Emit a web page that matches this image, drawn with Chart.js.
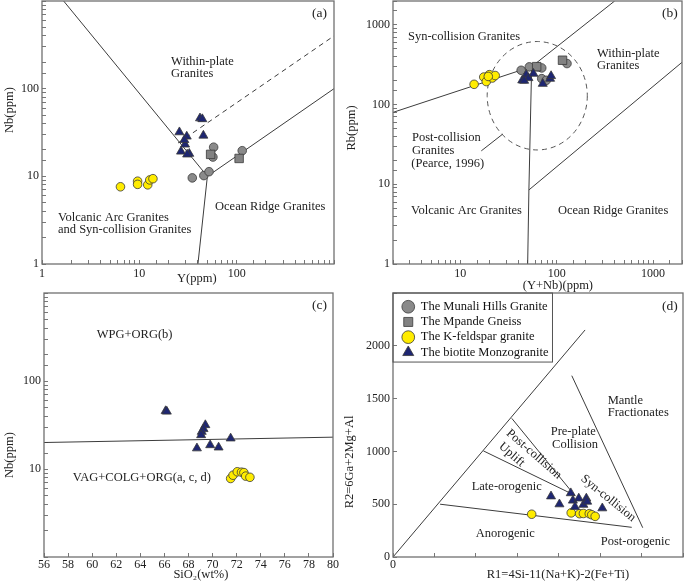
<!DOCTYPE html>
<html>
<head>
<meta charset="utf-8">
<script src="https://cdn.jsdelivr.net/npm/chart.js"></script>
<style>
  html, body { margin: 0; padding: 0; background: #fff; }
  #fig { position: relative; width: 685px; height: 588px; overflow: hidden; }
  canvas { position: absolute; }
</style>
</head>
<body>
<div id="fig">
  <canvas id="pa" width="342" height="292" style="left:0;top:0"></canvas>
  <canvas id="pb" width="343" height="292" style="left:342px;top:0"></canvas>
  <canvas id="pc" width="342" height="296" style="left:0;top:292px"></canvas>
  <canvas id="pd" width="343" height="296" style="left:342px;top:292px"></canvas>
</div>
<script>
// sample groups (legend order)
const groups = ['The Munali Hills Granite', 'The Mpande Gneiss', 'The K-feldspar granite', 'The biotite Monzogranite'];

// (a) Y (ppm) vs Nb (ppm), [Y, Nb]
const aMunali = [[35, 9.6], [46, 10.2], [52, 11.3], [58, 21.5], [57, 16.6], [114, 19.6]];
const aMpande = [[54, 17.8], [106, 16]];
const aKfsp = [[6.4, 7.6], [9.6, 8.8], [9.6, 8.1], [12.2, 8.0], [12.8, 9.1], [13.8, 9.4]];
const aBiotite = [[25.8, 31.9], [30.7, 28.5], [29.5, 23.1], [26.8, 19.2], [32.6, 18.1], [29, 26], [42, 46], [44.4, 45], [45.5, 29.2], [31, 17.8]];

// (b) Y+Nb (ppm) vs Rb (ppm)
const bMunali = [[42.8, 270], [52, 298], [64, 298], [70, 289], [70, 212], [78, 202], [128, 328]];
const bMpande = [[115, 361], [62, 300]];
const bKfsp = [[13.9, 180], [17.5, 222], [18.6, 195], [20, 238], [21.5, 216], [23, 232], [19.5, 226]];
const bBiotite = [[43.9, 202], [48.3, 238], [51, 216], [57.4, 245], [71.7, 183], [85.5, 212], [87.5, 229], [46, 200]];

// (c) SiO2 (wt%) vs Nb (ppm)
const cKfsp = [[71.5, 7.8], [71.7, 8.5], [72.05, 9.3], [72.4, 9.2], [72.6, 9.1], [72.75, 8.3], [73.1, 8.05]];
const cBiotite = [[66.1, 45.6], [66.2, 45], [69.4, 31.6], [69.25, 28.5], [69.1, 26.5], [69.05, 24.3], [68.7, 17.2], [69.8, 18.7], [70.5, 17.6], [71.5, 22.3]];

// (d) R1 vs R2
const dKfsp = [[1650, 405], [2120, 418], [2220, 410], [2265, 412], [2335, 410], [2365, 400], [2405, 385]];
const dBiotite = [[1880, 575], [1980, 500], [2115, 605], [2140, 535], [2165, 475], [2210, 555], [2265, 495], [2300, 555], [2310, 525], [2490, 462]];

// field boundaries
const aLines = [[[1, 2000], [50, 10], [1000, 100]], [[50, 10], [40, 1]]];
const aDashed = [[[25, 24], [1000, 400]]];
const bLines = [[[2, 80], [55, 300], [400, 2000]], [[50, 1], [51.5, 8.5], [55, 300]], [[51.5, 8.5], [2000, 340]], [[16.5, 26.3], [27.6, 42.8]]];
const bCircle = { x: [19, 208], y: [27, 620] };
const cLines = [[[56, 20], [80, 23]]];
const dLines = [
  [[0, 0], [2285, 2150]],
  [[560, 500], [2840, 281]],
  [[1075, 1005], [2160, 585]],
  [[1413, 1313], [2160, 585]],
  [[2127, 1717], [2971, 277]]
];

// tick labels
const logTicksA = [1, 10, 100];
const logTicksBx = [10, 100, 1000];
const logTicksBy = [1, 10, 100, 1000];
const logTicksC = [10, 100];
const sioTicks = [56, 58, 60, 62, 64, 66, 68, 70, 72, 74, 76, 78, 80];
const r1Ticks = [0, 500, 1000, 1500, 2000, 2500, 3000];
const r2Ticks = [0, 500, 1000, 1500, 2000];

const FONT = "'Liberation Serif', 'Times New Roman', serif";
Chart.defaults.font.family = FONT;
Chart.defaults.color = '#222';

const groupStyle = [
  { pointStyle: 'circle', fill: '#8a8a8a', r: 4.3 },
  { pointStyle: 'rect', fill: '#828282', r: 6 },
  { pointStyle: 'circle', fill: '#ffec00', r: 4.3 },
  { pointStyle: 'triangle', fill: '#1e2672', r: 5.2 }
];

const pts = arr => arr.map(([x, y]) => ({ x, y }));

function sampleSets(list) {
  return list.map((arr, i) => ({
    label: groups[i],
    data: pts(arr),
    pointStyle: groupStyle[i].pointStyle,
    backgroundColor: groupStyle[i].fill,
    borderColor: '#3a3a3a',
    borderWidth: 0.8,
    pointRadius: groupStyle[i].r,
    pointHoverRadius: groupStyle[i].r,
    order: 3 - i
  }));
}

function lineSets(lines, dash) {
  return lines.map(l => ({
    label: '',
    boundary: true,
    data: pts(l),
    showLine: true,
    pointRadius: 0,
    pointHoverRadius: 0,
    borderColor: '#3c3c3c',
    borderWidth: 1,
    borderDash: dash || [],
    order: 10
  }));
}

function axis(type, min, max, labels, size, pad, extra) {
  return Object.assign({
    type, min, max,
    grid: { display: true, drawOnChartArea: false, drawTicks: true, tickLength: -4, color: '#777', lineWidth: 1 },
    border: { display: false },
    ticks: {
      padding: pad, autoSkip: false, maxRotation: 0, color: '#222', font: { size: 12 },
      callback: v => {
        const t = labels.find(l => Math.abs(l - v) <= 1e-6 * Math.max(1, l));
        return t === undefined ? '' : String(t);
      }
    },
    afterFit: s => {
      if (s.isHorizontal()) s.height = size; else s.width = size;
      s.paddingTop = s.paddingBottom = s.paddingLeft = s.paddingRight = 0;
    }
  }, extra || {});
}

// texts, axis titles, frame, dashed field
function panelPlugin(cfg) {
  return {
    id: 'panel',
    beforeDatasetsDraw(chart) {
      if (!cfg.ellipse) return;
      const { ctx, scales: { x, y } } = chart;
      const e = cfg.ellipse;
      const x0 = x.getPixelForValue(e.x[0]), x1 = x.getPixelForValue(e.x[1]);
      const y0 = y.getPixelForValue(e.y[0]), y1 = y.getPixelForValue(e.y[1]);
      ctx.save();
      ctx.setLineDash([5, 4]);
      ctx.strokeStyle = '#555';
      ctx.lineWidth = 1;
      ctx.beginPath();
      ctx.ellipse((x0 + x1) / 2, (y0 + y1) / 2, Math.abs(x1 - x0) / 2, Math.abs(y1 - y0) / 2, 0, 0, Math.PI * 2);
      ctx.stroke();
      ctx.restore();
    },
    afterDraw(chart) {
      const { ctx, chartArea: ca, scales: { x, y } } = chart;
      ctx.save();
      ctx.strokeStyle = '#707070';
      ctx.lineWidth = 1.3;
      ctx.strokeRect(ca.left, ca.top, ca.right - ca.left, ca.bottom - ca.top);
      ctx.fillStyle = '#222';
      ctx.textBaseline = 'middle';
      for (const n of cfg.notes) {
        ctx.font = (n[4] || 12.5) + 'px ' + FONT;
        ctx.save();
        ctx.translate(x.getPixelForValue(n[1]), y.getPixelForValue(n[2]));
        if (n[3]) ctx.rotate(n[3] * Math.PI / 180);
        ctx.textAlign = n[3] ? 'center' : 'left';
        ctx.fillText(n[0], 0, 0);
        ctx.restore();
      }
      ctx.font = '12.5px ' + FONT;
      ctx.textAlign = 'center';
      const [tx, vx, ox] = cfg.xTitle;
      ctx.fillText(tx, x.getPixelForValue(vx), ca.bottom + ox);
      const [ty, vy, oy] = cfg.yTitle;
      ctx.translate(ca.left + oy, y.getPixelForValue(vy));
      ctx.rotate(-Math.PI / 2);
      ctx.fillText(ty, 0, 0);
      ctx.restore();
    }
  };
}

function makeChart(id, datasets, scales, padRight, plugins, legend) {
  return new Chart(document.getElementById(id), {
    type: 'scatter',
    data: { datasets },
    options: {
      responsive: false, animation: false, devicePixelRatio: 1, events: [],
      layout: { autoPadding: false, padding: { left: 0, top: 1, right: padRight, bottom: 0 } },
      scales,
      plugins: { legend: legend || { display: false }, tooltip: { enabled: false } }
    },
    plugins
  });
}

// (a)
makeChart('pa',
  [...sampleSets([aMunali, aMpande, aKfsp, aBiotite]), ...lineSets(aLines), ...lineSets(aDashed, [5, 4])],
  {
    x: axis('logarithmic', 1, 1000, logTicksA, 28, 7),
    y: axis('logarithmic', 1, 1000, logTicksA, 42, 7)
  }, 8,
  [panelPlugin({
    notes: [
      ['Within-plate', 21.2, 201], ['Granites', 21.2, 149],
      ['Volcanic Arc Granites', 1.46, 3.35], ['and Syn-collision Granites', 1.46, 2.44],
      ['Ocean Ridge Granites', 59.9, 4.47], ['(a)', 594, 730, 0, 13.5]
    ],
    xTitle: ['Y(ppm)', 39, 15],
    yTitle: ['Nb(ppm)', 57, -32]
  })]);

// (b)
makeChart('pb',
  [...sampleSets([bMunali, bMpande, bKfsp, bBiotite]), ...lineSets(bLines)],
  {
    x: axis('logarithmic', 2, 2000, logTicksBx, 28, 7),
    y: axis('logarithmic', 1, 2000, logTicksBy, 51, 7)
  }, 3,
  [panelPlugin({
    ellipse: bCircle,
    notes: [
      ['Syn-collision Granites', 2.86, 713],
      ['Within-plate', 262, 432], ['Granites', 262, 306],
      ['Post-collision', 3.15, 38.5], ['Granites', 3.15, 26.4], ['(Pearce, 1996)', 3.1, 18],
      ['Volcanic Arc Granites', 3.08, 4.67], ['Ocean Ridge Granites', 103, 4.67],
      ['(b)', 1240, 1414, 0, 13.5]
    ],
    xTitle: ['(Y+Nb)(ppm)', 103, 22],
    yTitle: ['Rb(ppm)', 51, -41]
  })]);

// (c)
makeChart('pc',
  [...sampleSets([[], [], cKfsp, cBiotite]), ...lineSets(cLines)],
  {
    x: axis('linear', 56, 80, sioTicks, 31, 4.5, {}),
    y: axis('logarithmic', 1, 1000, logTicksC, 44, 7)
  }, 9,
  [panelPlugin({
    notes: [
      ['WPG+ORG(b)', 60.38, 340], ['VAG+COLG+ORG(a, c, d)', 58.39, 7.96], ['(c)', 78.25, 731, 0, 13.5]
    ],
    xTitle: ['SiO\u2082(wt%)', 69.03, 18],
    yTitle: ['Nb(ppm)', 14.4, -34]
  })]);
Chart.getChart('pc').options.scales.x.ticks.stepSize = 2;
Chart.getChart('pc').update();

// (d)
const legendFrame = {
  id: 'legendFrame',
  afterLayout(chart) {
    const lg = chart.legend;
    lg.left += 6.3;
    lg.top += 5.8;
  },
  afterDraw(chart) {
    const lg = chart.legend, ca = chart.chartArea, ctx = chart.ctx;
    const p = lg.options.labels.padding;
    const wide = Math.max(...lg.legendHitBoxes.map(h => h.width));
    const right = lg.left + p + wide + 4;
    const bottom = lg.top + p + 6.25 + (lg.legendItems.length - 1) * (12.5 + p) + 9.7;
    ctx.save();
    ctx.strokeStyle = '#555';
    ctx.lineWidth = 1;
    ctx.strokeRect(ca.left, ca.top, right - ca.left, bottom - ca.top);
    ctx.restore();
  }
};

makeChart('pd',
  [...sampleSets([[], [], dKfsp, dBiotite]), ...lineSets(dLines)],
  {
    x: axis('linear', 0, 3450, r1Ticks, 31, 4.5, {}),
    y: axis('linear', 0, 2500, r2Ticks, 51, 7, {})
  }, 2,
  [panelPlugin({
    notes: [
      ['Mantle', 2554, 1480], ['Fractionates', 2554, 1367],
      ['Pre-plate', 1876, 1187], ['Collision', 1892, 1061],
      ['Post-collision', 1677, 973, 41], ['Uplift', 1412, 969, 41],
      ['Syn-collision', 2561, 556, 39],
      ['Late-orogenic', 936, 666], ['Anorogenic', 984, 224], ['Post-orogenic', 2471, 145],
      ['(d)', 3200, 2370, 0, 13.5]
    ],
    xTitle: ['R1=4Si-11(Na+K)-2(Fe+Ti)', 1963, 18],
    yTitle: ['R2=6Ga+2Mg+Al', 900, -43]
  }), legendFrame],
  {
    display: true, position: 'chartArea', align: 'start',
    labels: {
      usePointStyle: true, boxWidth: 12.5, boxHeight: 9, padding: 2.7, color: '#111',
      font: { size: 12.5 },
      filter: (item, data) => !data.datasets[item.datasetIndex].boundary,
      sort: (a, b) => a.datasetIndex - b.datasetIndex
    }
  });
const dChart = Chart.getChart('pd');
dChart.options.scales.x.ticks.stepSize = 500;
dChart.options.scales.x.ticks.includeBounds = false;
dChart.options.scales.y.ticks.stepSize = 500;
dChart.update();
</script>
</body>
</html>
